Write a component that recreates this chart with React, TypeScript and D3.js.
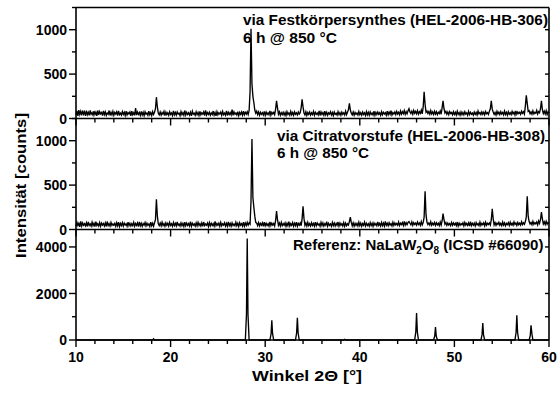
import React from 'react';
import * as d3 from 'd3';

// 2θ grid of the two measured patterns: 10.0 .. 60.0 in steps of 0.1°
const angleStart = 10;
const angleStep = 0.1;

// via Festkörpersynthese (HEL-2006-HB-306), counts (one row = one degree)
const festkoerperCounts = [
  40,85,30,95,45,80,35,90,50,75,
  30,88,42,70,35,92,48,66,38,84,
  45,72,30,90,40,78,52,68,33,86,
  44,76,36,62,48,90,34,70,42,80,
  36,68,50,74,32,86,44,60,38,78,
  46,70,34,82,40,66,52,74,30,84,
  42,64,36,118,38,72,46,68,34,80,
  40,70,32,76,48,62,36,84,42,66,
  34,78,46,70,110,240,130,60,42,74,
  38,66,48,80,34,72,44,64,36,76,
  46,62,34,86,42,68,38,74,50,60,
  32,78,44,66,36,90,40,70,46,64,
  38,72,30,82,48,60,36,76,44,68,
  34,80,42,64,50,74,32,92,40,66,
  46,70,36,62,44,84,38,68,30,78,
  42,64,50,72,36,80,44,60,38,86,
  34,70,46,66,40,100,36,74,48,62,
  40,78,32,68,46,72,38,84,42,70,
  50,76,44,90,300,1010,390,250,180,95,
  60,82,44,74,38,70,48,66,40,80,
  36,72,46,64,42,86,38,70,52,68,
  44,105,200,120,48,74,36,66,44,70,
  40,68,34,78,46,62,38,80,42,66,
  36,74,48,64,40,72,50,66,120,215,
  130,62,40,76,36,68,46,72,38,64,
  44,80,36,70,48,62,40,86,34,74,
  46,66,38,82,42,70,36,64,50,76,
  40,68,34,74,46,60,38,78,44,66,
  36,72,48,64,40,82,44,70,100,170,
  95,60,42,74,36,68,48,62,40,80,
  44,66,38,72,46,64,34,78,42,70,
  38,74,46,62,40,84,36,68,44,72,
  48,64,36,76,42,70,50,66,38,82,
  42,72,46,88,40,66,52,74,44,80,
  50,70,42,84,48,76,54,90,46,78,
  52,86,110,74,56,82,48,92,60,80,
  54,88,50,76,58,94,52,130,300,160,
  70,84,56,78,48,90,52,74,46,82,
  50,76,44,70,56,86,48,120,200,110,
  62,80,48,72,44,78,56,68,42,76,
  46,70,40,82,48,66,38,74,44,68,
  42,76,50,64,36,80,44,70,48,62,
  38,72,46,68,40,84,52,66,44,74,
  48,70,42,78,54,66,46,82,110,200,
  105,74,46,68,40,80,50,72,44,76,
  50,68,42,84,46,70,38,76,48,66,
  44,80,52,72,40,86,48,74,56,70,
  46,82,58,76,50,140,260,170,80,88,
  54,74,48,86,52,70,60,92,50,78,
  64,110,200,100,56,82,50,88,44,76,
  60,
];

// via Citratvorstufe (HEL-2006-HB-308), counts
const citratCounts = [
  36,80,44,70,30,92,40,74,48,66,
  42,76,34,86,46,62,38,82,44,70,
  32,88,46,64,40,78,36,72,50,68,
  40,74,34,90,44,66,38,80,46,62,
  48,70,36,76,42,84,34,68,44,78,
  38,72,50,64,36,82,44,70,40,66,
  44,80,38,68,46,74,32,86,42,70,
  36,66,48,78,40,72,46,62,34,84,
  42,70,38,76,110,340,150,64,44,72,
  40,82,46,66,36,74,48,70,38,80,
  46,64,36,78,44,70,40,86,48,62,
  38,74,44,68,34,82,42,72,46,66,
  40,88,36,70,48,64,38,76,42,80,
  46,66,40,74,36,84,44,62,48,72,
  34,78,42,70,46,66,38,90,44,68,
  48,72,36,80,42,64,50,76,40,70,
  38,86,44,68,36,74,46,62,42,82,
  44,70,34,76,48,66,40,84,38,72,
  46,80,50,74,60,320,1020,360,250,150,
  80,72,44,78,40,68,48,74,36,82,
  42,70,46,64,38,86,44,72,50,68,
  40,100,207,110,46,72,38,80,44,66,
  48,74,36,70,42,88,40,66,46,78,
  38,70,44,82,36,68,48,74,42,120,
  260,125,46,72,38,80,44,66,40,76,
  46,68,38,84,42,72,50,64,36,80,
  44,74,40,66,48,88,38,70,46,62,
  36,80,44,72,40,68,46,84,38,74,
  48,66,40,78,36,72,44,64,50,90,
  140,80,42,76,38,70,46,68,40,82,
  44,72,36,66,48,84,40,70,46,64,
  38,78,44,70,36,74,50,66,42,86,
  46,68,40,80,44,72,38,90,48,70,
  42,76,50,66,40,82,46,74,52,68,
  48,84,44,72,56,78,46,92,50,76,
  54,80,90,70,52,86,48,76,56,72,
  50,84,56,74,48,90,52,78,140,430,
  170,82,56,74,50,88,48,72,54,80,
  46,76,52,70,44,84,50,96,178,110,
  60,78,46,72,52,66,44,80,48,74,
  52,70,44,84,40,72,48,66,54,76,
  42,80,50,68,46,74,38,88,44,70,
  48,72,40,78,52,66,44,84,46,70,
  54,76,42,82,48,70,56,74,50,110,
  234,120,52,78,46,72,58,80,48,70,
  44,84,50,74,42,68,54,78,46,82,
  52,70,48,86,56,74,46,80,54,72,
  50,88,56,76,60,90,140,374,150,90,
  62,80,54,92,58,76,64,84,52,96,
  70,110,196,120,62,86,56,92,60,80,
  66,
];

// Referenz NaLaW2O8 (ICSD #66090): angle / count pairs
const refAngles = [
  10, 18.1, 18.2, 18.3,
  27.9, 28.02, 28.1, 28.18, 28.3,
  30.5, 30.62, 30.7, 30.78, 30.9,
  33.2, 33.32, 33.4, 33.48, 33.6,
  38.3, 38.4, 38.5,
  45.8, 45.92, 46.0, 46.08, 46.2,
  47.8, 47.92, 48.0, 48.08, 48.2,
  52.8, 52.92, 53.0, 53.08, 53.2,
  56.4, 56.52, 56.6, 56.68, 56.8,
  57.9, 58.02, 58.1, 58.2, 58.3,
  60,
];
const refCounts = [
  0, 0, 50, 0,
  0, 1100, 4360, 1100, 0,
  0, 260, 850, 260, 0,
  0, 300, 960, 300, 0,
  0, 30, 0,
  0, 350, 1160, 350, 0,
  0, 170, 560, 170, 0,
  0, 220, 730, 220, 0,
  0, 320, 1060, 320, 0,
  0, 190, 630, 250, 0,
  0,
];

const xMajorTicks = [10, 20, 30, 40, 50, 60];
const xMinorTicks = [12, 14, 16, 18, 22, 24, 26, 28, 32, 34, 36, 38, 42, 44, 46, 48, 52, 54, 56, 58];
const sampleMajorTicks = [0, 500, 1000];
const sampleMinorTicks = [250, 750, 1250];
const refMajorTicks = [0, 2000, 4000];
const refMinorTicks = [1000, 3000];

const W = 557;
const H = 400;
const left = 76;
const right = 549;
const font = "'Liberation Sans', Arial, sans-serif";

const toPoints = (counts: number[]) => counts.map((c, i) => [angleStart + i * angleStep, c] as [number, number]);

export default function App() {
  const x = d3.scaleLinear().domain([10, 60]).range([left, right]);

  const panels = [
    { top: 7.5, bottom: 118.5, max: 1250, data: toPoints(festkoerperCounts), major: sampleMajorTicks, minor: sampleMinorTicks },
    { top: 118.5, bottom: 229.5, max: 1250, data: toPoints(citratCounts), major: sampleMajorTicks, minor: sampleMinorTicks },
    { top: 229.5, bottom: 340, max: 4750, data: refAngles.map((a, i) => [a, refCounts[i]] as [number, number]), major: refMajorTicks, minor: refMinorTicks },
  ];

  return (
    <svg width={W} height={H} style={{ position: 'absolute', left: 0, top: 0, background: '#fff' }} fontFamily={font} fontWeight="bold">
      <rect x={0} y={0} width={W} height={H} fill="#fff" />
      {panels.map((p, pi) => {
        const y = d3.scaleLinear().domain([0, p.max]).range([p.bottom, p.top]);
        const line = d3.line<[number, number]>().x(d => x(d[0])).y(d => y(d[1]));
        const allY = [...p.major, ...p.minor].sort((a, b) => a - b);
        return (
          <g key={pi}>
            <path d={line(p.data) || ''} fill="none" stroke="#000" strokeWidth={1.35} strokeLinejoin="miter" />
            {/* bottom axis of panel */}
            <line x1={left} x2={right} y1={p.bottom} y2={p.bottom} stroke="#000" strokeWidth={1.6} />
            {xMajorTicks.map(t => (
              <line key={'xM' + t} x1={x(t)} x2={x(t)} y1={p.bottom} y2={p.bottom + 7} stroke="#000" strokeWidth={1.4} />
            ))}
            {xMinorTicks.map(t => (
              <line key={'xm' + t} x1={x(t)} x2={x(t)} y1={p.bottom} y2={p.bottom + 4} stroke="#000" strokeWidth={1.4} />
            ))}
            {/* left ticks */}
            {p.major.map(t => (
              <g key={'yM' + t}>
                <line x1={left - 7} x2={left} y1={y(t)} y2={y(t)} stroke="#000" strokeWidth={1.4} />
                <text x={left - 9} y={y(t)} dy="0.36em" textAnchor="end" fontSize={14}>{t}</text>
              </g>
            ))}
            {p.minor.map(t => (
              <line key={'ym' + t} x1={left - 4} x2={left} y1={y(t)} y2={y(t)} stroke="#000" strokeWidth={1.4} />
            ))}
            {/* right inward ticks */}
            {allY.filter(t => t > 0 && t < p.max).map(t => (
              <line key={'yr' + t} x1={right - 4} x2={right} y1={y(t)} y2={y(t)} stroke="#000" strokeWidth={1.4} />
            ))}
          </g>
        );
      })}
      {/* frame */}
      <line x1={left} x2={left} y1={7.5} y2={340} stroke="#000" strokeWidth={1.6} />
      <line x1={right} x2={right} y1={7.5} y2={340} stroke="#000" strokeWidth={1.6} />
      <line x1={left} x2={right} y1={7.5} y2={7.5} stroke="#000" strokeWidth={1.6} />

      {xMajorTicks.map(t => (
        <text key={'xl' + t} x={x(t)} y={361.5} textAnchor="middle" fontSize={14}>{t}</text>
      ))}

      <text x={252} y={381} fontSize={15.5} textLength={110} lengthAdjust="spacingAndGlyphs">Winkel 2Θ [°]</text>
      <text transform="translate(26,258) rotate(-90)" fontSize={15.5} textLength={145} lengthAdjust="spacingAndGlyphs">Intensität [counts]</text>

      <text x={243} y={25} fontSize={15} textLength={305} lengthAdjust="spacingAndGlyphs">via Festkörpersynthes (HEL-2006-HB-306)</text>
      <text x={243} y={43} fontSize={15} textLength={94} lengthAdjust="spacingAndGlyphs">6 h @ 850 °C</text>
      <text x={277} y={141} fontSize={15} textLength={268} lengthAdjust="spacingAndGlyphs">via Citratvorstufe (HEL-2006-HB-308)</text>
      <text x={277} y={158} fontSize={15} textLength={92} lengthAdjust="spacingAndGlyphs">6 h @ 850 °C</text>
      <text x={293} y={250} fontSize={15}>
        Referenz: NaLaW<tspan dy={4} fontSize={10}>2</tspan><tspan dy={-4}>O</tspan><tspan dy={4} fontSize={10}>8</tspan><tspan dy={-4}> (ICSD #66090)</tspan>
      </text>
    </svg>
  );
}
